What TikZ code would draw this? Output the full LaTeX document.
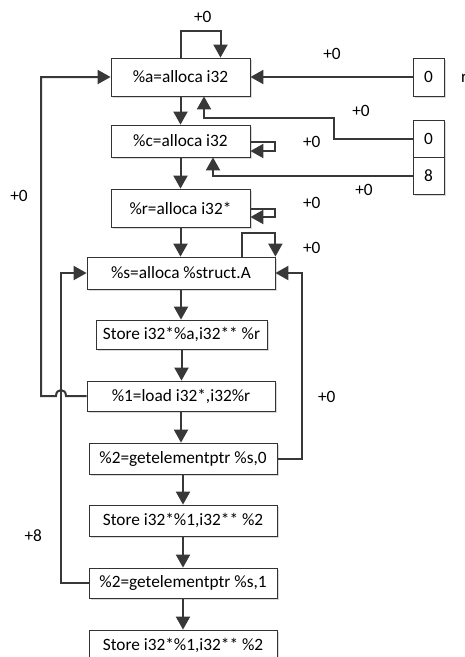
\documentclass[tikz,border=0pt]{standalone}
\usepackage{fontspec}
\setmainfont{Carlito}
\usetikzlibrary{arrows.meta,calc,shadows}
\newcommand{\txtfont}{\fontsize{17.3pt}{20pt}\selectfont}
\begin{document}
\begin{tikzpicture}[x=1pt,y=-1pt,
  lnk/.style={draw=black!78, line width=2pt, -{Triangle[length=13pt,width=14pt]}},
  box/.style={draw=black!80, line width=0.8pt, fill=white, inner sep=0pt, font=\txtfont,
    drop shadow={shadow xshift=2pt,shadow yshift=-2pt,fill=black!15,opacity=1}},
  lab/.style={inner sep=0pt, font=\txtfont}]
\useasboundingbox (0,0) rectangle (464,657);
\clip (0,0) rectangle (464,657);

\node[box,minimum width=139pt,minimum height=38pt] (a) at (180.5,77) {\%a=alloca i32};
\node[box,minimum width=139pt,minimum height=32pt] (c) at (180.5,141) {\%c=alloca i32};
\node[box,minimum width=139pt,minimum height=38pt] (r) at (180.5,208) {\%r=alloca i32*};
\node[box,minimum width=188pt,minimum height=32pt] (s) at (181,273) {\%s=alloca \%struct.A};
\node[box,minimum width=171pt,minimum height=29pt] (st1) at (181.5,334.5) {Store i32*\%a,i32** \%r};
\node[box,minimum width=188pt,minimum height=30pt] (ld) at (181,396) {\%1=load i32*,i32\%r};
\node[box,minimum width=188pt,minimum height=31pt] (g0) at (183,458.5) {\%2=getelementptr \%s,0};
\node[box,minimum width=188pt,minimum height=31pt] (st2) at (183,520.5) {Store i32*\%1,i32** \%2};
\node[box,minimum width=188pt,minimum height=30pt] (g1) at (183,583) {\%2=getelementptr \%s,1};
\node[box,minimum width=188pt,minimum height=31pt] (st3) at (183,645.5) {Store i32*\%1,i32** \%2};
\node[box,minimum width=31pt,minimum height=38pt] (z1) at (428.5,77) {0};
\node[box,minimum width=31pt,minimum height=37pt] (z2) at (428.5,138.5) {0};
\node[box,minimum width=31pt,minimum height=37pt] (z3) at (428.5,175.5) {8};

% main chain
\draw[lnk] (a.south) -- (c.north);
\draw[lnk] (c.south) -- (r.north);
\draw[lnk] (r.south) -- (r.south |- s.north);
\draw[lnk] (s.south) -- (s.south |- st1.north);
\draw[lnk] (st1.south) -- (st1.south |- ld.north);
\draw[lnk] (ld.south) -- (ld.south |- g0.north);
\draw[lnk] (g0.south) -- (st2.north);
\draw[lnk] (st2.south) -- (g1.north);
\draw[lnk] (g1.south) -- (st3.north);

% self loops
\draw[lnk] ($(a.north)+(0.5,0)$) -- ++(0,-27) -| ($(a.north)+(40,0)$);
\draw[lnk] ($(c.east)+(0,1)$) -- ++(25,0) -- ++(0,9) -- ($(c.east)+(0,10)$);
\draw[lnk] ($(r.east)+(0,1)$) -- ++(25,0) -- ++(0,8) -- ($(r.east)+(0,9)$);
\draw[lnk] ($(s.north)+(61,0)$) -- ++(0,-24) -| (s.north east);

% right constants
\draw[lnk] (z1.west) -- (a.east);
\draw[lnk] (z2.west) -- ++(-79,0) |- ($(a.south)+(23.5,22)$) -- ($(a.south)+(23.5,0)$);
\draw[lnk] (z3.west) -| ($(c.south)+(32.5,0)$);

% back edges
\draw[lnk] (g0.east) -- ++(25,0) |- (s.east);
\draw[lnk] (g1.west) -- ++(-28,0) |- (s.west);
\draw[lnk] (ld.west) -- (66,396) .. controls (66,388) and (56,388) .. (56,396) -- (41,396) |- (a.west);

% labels
\node[lab] at (202.7,17.3) {+0};
\node[lab] at (332,54) {+0};
\node[lab] at (361,111) {+0};
\node[lab] at (311.7,142) {+0};
\node[lab] at (364,190) {+0};
\node[lab] at (311.7,203.3) {+0};
\node[lab] at (311.7,248.3) {+0};
\node[lab] at (326.7,396.7) {+0};
\node[lab] at (19,195.7) {+0};
\node[lab] at (33.3,535.7) {+8};
\node[lab,anchor=base west] at (461,82.5) {r};
\end{tikzpicture}
\end{document}
